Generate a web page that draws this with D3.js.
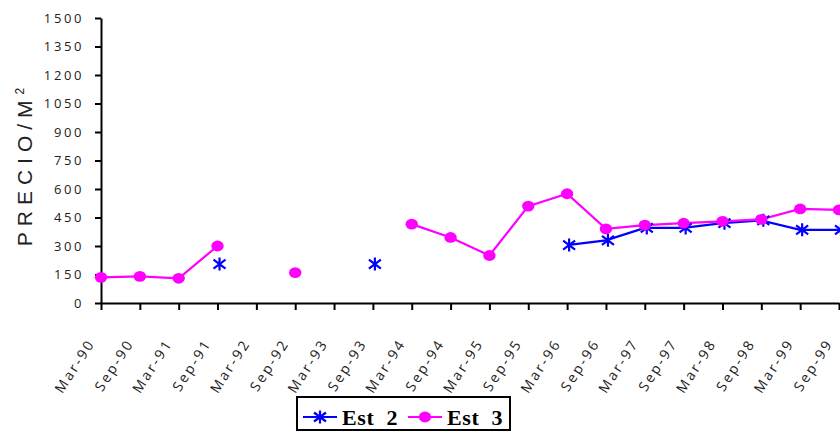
<!DOCTYPE html>
<html>
<head>
<meta charset="utf-8">
<script src="https://cdn.jsdelivr.net/npm/d3@7"></script>
<style>
  html, body { margin: 0; padding: 0; background: #fff; }
  svg { display: block; }
</style>
</head>
<body>
<svg id="chart" width="840" height="432"></svg>
<script>
// Half-yearly price per m² for two estates
const categories = ["Mar-90","Sep-90","Mar-91","Sep-91","Mar-92","Sep-92","Mar-93","Sep-93","Mar-94","Sep-94",
                    "Mar-95","Sep-95","Mar-96","Sep-96","Mar-97","Sep-97","Mar-98","Sep-98","Mar-99","Sep-99"];
const est2 = [null, null, null, 205, null, null, null, 205, null, null,
              null, null, 305, 330, 395, 395, 420, 435, 385, 385];
const est3 = [135, 140, 130, 300, null, 160, null, null, 415, 345,
              250, 510, 575, 390, 410, 420, 430, 440, 495, 490];
const yTicks = [0, 150, 300, 450, 600, 750, 900, 1050, 1200, 1350, 1500];
const seriesNames = ["Est 2", "Est 3"];

const BLUE = "#0000ff";
const MAGENTA = "#ff00ff";

const svg = d3.select("#chart");

const x = d3.scalePoint().domain(categories).range([101, 839]).padding(0);
const y = d3.scaleLinear().domain([0, 1500]).range([303, 18]);

// Y axis
const yAxis = svg.append("g")
  .attr("transform", "translate(101,0)")
  .call(d3.axisLeft(y).tickValues(yTicks).tickFormat(d3.format("d"))
    .tickSize(6).tickSizeOuter(0).tickPadding(11));
yAxis.select(".domain").attr("stroke", "#000").attr("stroke-width", 2);
yAxis.selectAll(".tick line").attr("stroke", "#000").attr("stroke-width", 2);
yAxis.selectAll(".tick text")
  .attr("font-family", "'Open Sans', sans-serif")
  .attr("font-size", 13)
  .attr("letter-spacing", "2.6px")
  .attr("fill", "#222");

// X axis
const xAxis = svg.append("g")
  .attr("transform", "translate(0,303)")
  .call(d3.axisBottom(x).tickSize(7).tickSizeOuter(0));
xAxis.select(".domain").attr("stroke", "#000").attr("stroke-width", 2);
xAxis.selectAll(".tick line").attr("stroke", "#000").attr("stroke-width", 2);
xAxis.selectAll(".tick text")
  .attr("font-family", "'Open Sans', sans-serif")
  .attr("font-size", 14)
  .attr("letter-spacing", "2.4px")
  .attr("fill", "#222")
  .attr("text-anchor", "end")
  .attr("x", 0).attr("y", 0).attr("dy", 0)
  .attr("transform", "translate(-6,40) rotate(-57)");

// Y axis title
const title = svg.append("text")
  .attr("transform", "translate(32,164) rotate(-90)")
  .attr("text-anchor", "middle")
  .attr("font-family", "'Liberation Sans', Arial, sans-serif")
  .attr("font-size", 21)
  .attr("letter-spacing", "6px")
  .attr("fill", "#222");
title.append("tspan").text("PRECIO/M");
title.append("tspan").attr("font-size", 12).attr("dy", -8).text("2");

// Lines
const line = d3.line()
  .defined(d => d.v != null)
  .x(d => x(d.c))
  .y(d => y(d.v));

const asterisk = "M0,-6.5V6.5M-6,-4.5L6,4.5M-6,4.5L6,-4.5";

function toPoints(vals) {
  return vals.map((v, i) => ({ c: categories[i], v }));
}

const p2 = toPoints(est2);
const p3 = toPoints(est3);

svg.append("path").datum(p2)
  .attr("d", line).attr("fill", "none").attr("stroke", BLUE).attr("stroke-width", 2.2);
svg.append("path").datum(p3)
  .attr("d", line).attr("fill", "none").attr("stroke", MAGENTA).attr("stroke-width", 2.2);

svg.append("g").selectAll("path")
  .data(p2.filter(d => d.v != null))
  .join("path")
  .attr("transform", d => `translate(${x(d.c) + 2},${y(d.v)})`)
  .attr("d", asterisk)
  .attr("fill", "none").attr("stroke", BLUE).attr("stroke-width", 2.2);

svg.append("g").selectAll("ellipse")
  .data(p3.filter(d => d.v != null))
  .join("ellipse")
  .attr("cx", d => x(d.c))
  .attr("cy", d => y(d.v))
  .attr("rx", 6.2).attr("ry", 5.4)
  .attr("fill", MAGENTA);

// Legend
const legend = svg.append("g");
legend.append("rect")
  .attr("x", 297).attr("y", 397).attr("width", 213).attr("height", 33)
  .attr("fill", "#fff").attr("stroke", "#000").attr("stroke-width", 2);

const items = [
  { name: seriesNames[0], color: BLUE, x0: 303, kind: "star" },
  { name: seriesNames[1], color: MAGENTA, x0: 408, kind: "dot" }
];
items.forEach(it => {
  const g = legend.append("g").attr("transform", `translate(${it.x0},417)`);
  g.append("line").attr("x1", 0).attr("x2", 34).attr("y1", 0).attr("y2", 0)
    .attr("stroke", it.color).attr("stroke-width", 2.2);
  if (it.kind === "star") {
    g.append("path").attr("transform", "translate(17,0)").attr("d", asterisk)
      .attr("fill", "none").attr("stroke", it.color).attr("stroke-width", 2.2);
  } else {
    g.append("ellipse").attr("cx", 17).attr("cy", 0).attr("rx", 6.2).attr("ry", 5.4)
      .attr("fill", it.color);
  }
  g.append("text")
    .attr("x", 39).attr("y", 8)
    .attr("font-family", "'Liberation Serif', 'Times New Roman', serif")
    .attr("font-weight", "bold")
    .attr("font-size", 22)
    .attr("letter-spacing", "0.6px")
    .attr("word-spacing", "6px")
    .attr("fill", "#000")
    .text(it.name);
});
</script>
</body>
</html>
